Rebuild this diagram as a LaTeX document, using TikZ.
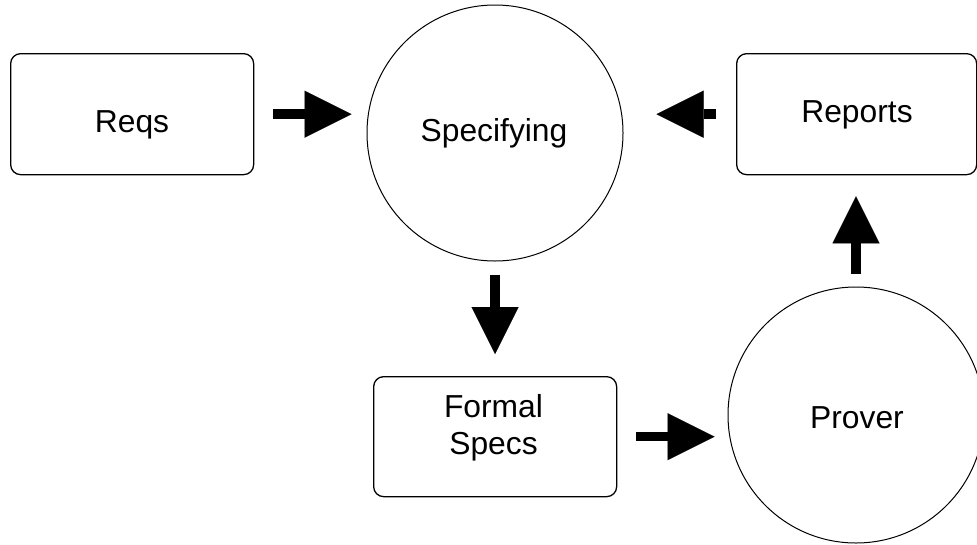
\documentclass[tikz,border=0pt]{standalone}
\usepackage{fontspec}
\setmainfont{Liberation Sans}
\usetikzlibrary{arrows.meta}

\begin{document}
\begin{tikzpicture}[x=1pt,y=-1pt,
  box/.style={draw, rounded corners=10pt, line width=1.3pt, inner sep=0pt,
    minimum width=243pt, minimum height=121pt, anchor=north west},
  proc/.style={draw, circle, line width=1pt, inner sep=0pt, minimum size=256pt},
  txt/.style={inner sep=0pt, font=\fontsize{31.8pt}{37pt}\selectfont},
  conn/.style={line width=9.5pt,
    -{Triangle[length=47pt,width=47pt,line width=0.01pt]}}]

  % canvas
  \useasboundingbox (0,0) rectangle (977,544);

  % stores and processes
  \node[box] (reqs) at (10,53) {};
  \node[box, minimum width=240pt] (reports) at (736,53) {};
  \node[box, minimum height=120pt] (formal) at (373,376) {};
  \node[proc] (spec) at (495,133) {};
  \node[proc] (prover) at (856,415) {};

  % labels
  \node[txt, anchor=base] (reqstxt) at (132,132) {Reqs};
  \node[txt, anchor=base] (reportstxt) at (857,122) {Reports};
  \node[txt, anchor=base] (spectxt) at (494,141) {Specifying};
  \node[txt, anchor=base] (provertxt) at (857,428) {Prover};
  \node[txt, align=center] (formaltxt) at (493.5,428) {Formal\\Specs};

  % flows
  \draw[conn, shorten <=19pt, shorten >=15pt] (reqs.east) -- (reqs.east -| spec.west);
  \draw[conn, shorten <=20pt, shorten >=33pt] (reports.west) -- (reports.west -| spec.east);
  \draw[conn, shorten <=13pt, shorten >=22pt] (spec.south) -- (spec.south |- formal.north);
  \draw[conn, shorten <=19pt, shorten >=13pt] (formal.east) -- (formal.east -| prover.west);
  \draw[conn, shorten <=13pt, shorten >=21pt] (prover.north) -- (prover.north |- reports.south);
\end{tikzpicture}
\end{document}
